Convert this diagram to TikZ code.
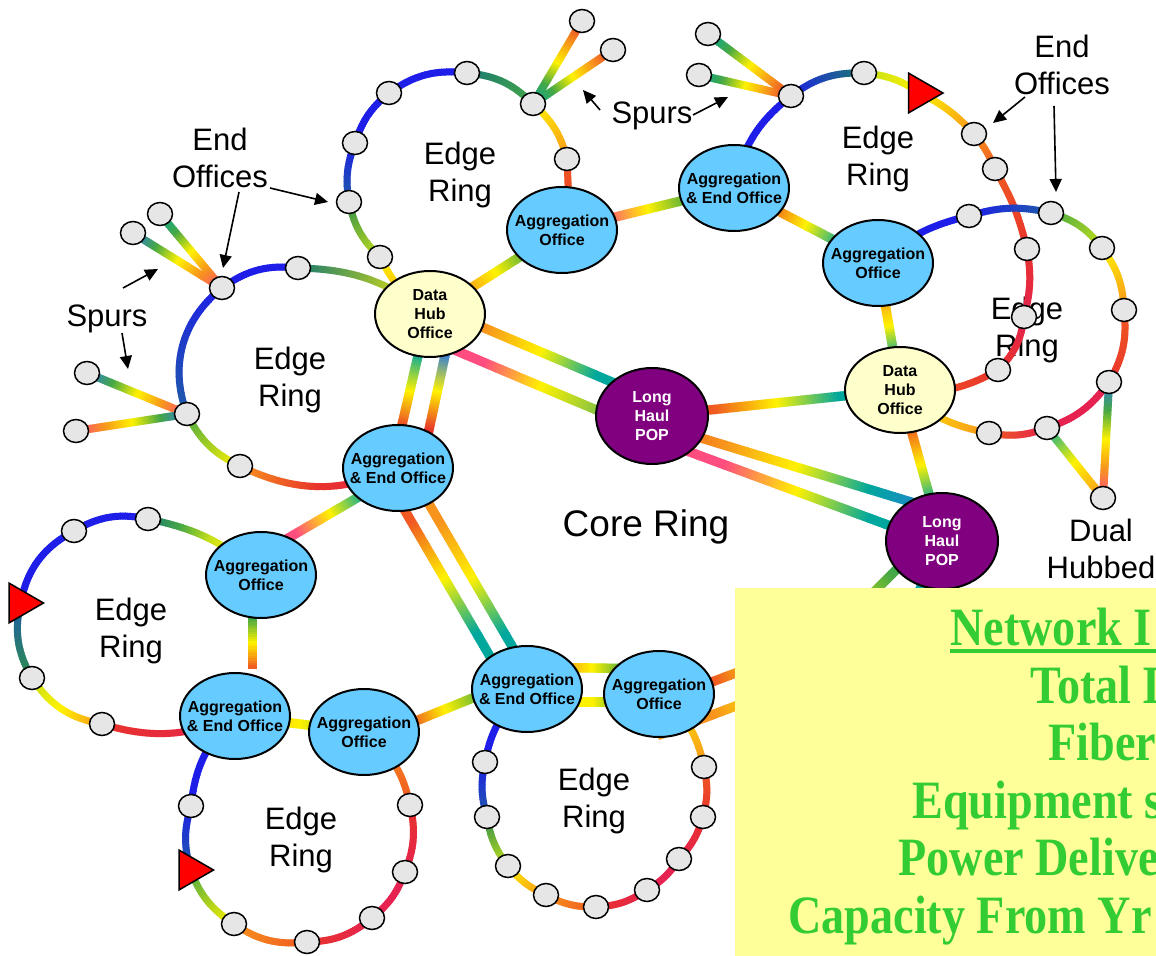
\documentclass[tikz,border=0pt]{standalone}
\usepackage{fontspec}
\setmainfont{Liberation Sans}
\newfontfamily\notefont[FakeStretch=0.855]{Liberation Serif}
\usetikzlibrary{shapes.geometric,arrows.meta,decorations.markings,calc}

\pgfdeclarelayer{paper}
\pgfdeclarelayer{fibre}
\pgfsetlayers{paper,fibre,main}

% office and note colours
\definecolor{aggblue}{HTML}{66CCFF}
\definecolor{hubyellow}{HTML}{FFFFCC}
\definecolor{popviolet}{HTML}{800080}
\definecolor{nodegray}{HTML}{E6E6E6}
\definecolor{notepaper}{HTML}{FFFF99}
\definecolor{notegreen}{HTML}{33CC33}
% fibre spectrum
\definecolor{cRed}{HTML}{E8342C}
\definecolor{cCrim}{HTML}{E52250}
\definecolor{cPink}{HTML}{FF4D80}
\definecolor{cOrng}{HTML}{F7941D}
\definecolor{cOrRed}{HTML}{F05A22}
\definecolor{cYel}{HTML}{FFF200}
\definecolor{cYG}{HTML}{C4DF1B}
\definecolor{cGrnL}{HTML}{8CC63F}
\definecolor{cGrn}{HTML}{45A845}
\definecolor{cGrnD}{HTML}{2E8E4E}
\definecolor{cTeal}{HTML}{00A79D}
\definecolor{cTealD}{HTML}{1A7A72}
\definecolor{cBlue}{HTML}{1E1EE8}
\definecolor{cBlueT}{HTML}{1F5CA8}
\definecolor{cSky}{HTML}{2C7BE0}

% colour-graded fibre: short tiles laid along the path, tinted by position
\def\gw{1.75pt}
\newcommand\gfrac[1]{%
  \pgfmathsetmacro\gf{#1*max(0,min(1,\pgfkeysvalueof{/pgf/decoration/mark info/distance from start}/\pgfdecoratedpathlength))}%
  \pgfmathtruncatemacro\gk{min(\gf,#1-0.0001)}%
  \pgfmathsetmacro\gt{100*(\gf-\gk)}%
}
\newcommand\gtile{\fill[gc] (-0.8pt,-\gw) rectangle (0.8pt,\gw);}

\tikzset{
  g2/.style 2 args={postaction={decorate,decoration={markings,
      mark=between positions 0 and 1 step 1.2pt with {\gfrac{1}\colorlet{gc}{#2!\gt!#1}\gtile}}}},
  g3/.style n args={3}{postaction={decorate,decoration={markings,
      mark=between positions 0 and 1 step 1.2pt with {\gfrac{2}%
        \ifcase\gk\relax\colorlet{gc}{#2!\gt!#1}\or\colorlet{gc}{#3!\gt!#2}\fi\gtile}}}},
  g5/.style n args={5}{postaction={decorate,decoration={markings,
      mark=between positions 0 and 1 step 1.2pt with {\gfrac{4}%
        \ifcase\gk\relax\colorlet{gc}{#2!\gt!#1}\or\colorlet{gc}{#3!\gt!#2}\or
        \colorlet{gc}{#4!\gt!#3}\or\colorlet{gc}{#5!\gt!#4}\fi\gtile}}}},
  g1/.style={g2={#1}{#1}},
  trunk/.code={\def\gw{2.35pt}},
  spur/.code={\def\gw{2pt}},
  sn/.style={ellipse, draw, line width=0.75pt, fill=nodegray,
    minimum width=12.5pt, minimum height=11.5pt, inner sep=0pt},
  big/.style={ellipse, draw, line width=1pt, inner sep=0pt,
    minimum width=55pt, minimum height=43pt},
  nodetext/.style={font=\bfseries\fontsize{8pt}{9.4pt}\selectfont, align=center, inner sep=0pt},
  agg/.style={big, fill=aggblue, label={[nodetext]center:#1}},
  hub/.style={big, fill=hubyellow, label={[nodetext]center:Data\\Hub\\Office}},
  pop/.style={big, fill=popviolet, minimum width=56pt, minimum height=48pt,
    label={[nodetext, text=white]center:Long\\Haul\\POP}},
  tri/.style={regular polygon, regular polygon sides=3, shape border rotate=-90,
    draw, line width=0.75pt, fill=red, minimum size=23pt, inner sep=0pt},
  lbl/.style={font=\fontsize{15.5pt}{18.5pt}\selectfont, align=center, inner sep=0pt},
  arr/.style={-{Triangle[length=6.5pt,width=6pt]}, line width=0.8pt},
  note/.style={font=\notefont\bfseries\fontsize{27pt}{27pt}\selectfont,
    text=notegreen, inner sep=0pt, anchor=base west},
}

\begin{document}
\begin{tikzpicture}[x=0.5pt,y=0.5pt]
\useasboundingbox (0,0) rectangle (1156,-956);
\begin{pgfonlayer}{paper}
  \fill[white] (0,0) rectangle (1156,-956);
\end{pgfonlayer}
\clip (0,0) rectangle (1156,-956);

% ---------- offices ----------
\node[agg={Aggregation\\Office}] (AO1) at (562,-230) {};
\node[agg={Aggregation\\\& End Office}] (AEO1) at (734,-188) {};
\node[agg={Aggregation\\Office}] (AO2) at (878,-263) {};
\node[hub] (DH2) at (900,-390) {};
\node[hub] (DH1) at (430,-314) {};
\node[agg={Aggregation\\\& End Office}] (AEO2) at (398,-468) {};
\node[pop] (LH1) at (652,-416) {};
\node[pop] (LH2) at (942,-541) {};
\node[agg={Aggregation\\Office}] (AO3) at (261,-575) {};
\node[agg={Aggregation\\\& End Office}] (AEO3) at (235,-716) {};
\node[agg={Aggregation\\Office}] (AO4) at (364,-732) {};
\node[agg={Aggregation\\\& End Office}] (AEO4) at (527,-689) {};
\node[agg={Aggregation\\Office}] (AO5) at (659,-694) {};

% ---------- end offices on the edge rings ----------
% ring A (top centre)
\node[sn] (A1) at (567,-159) {};
\node[sn] (A2) at (533,-104) {};
\node[sn] (A3) at (467,-73) {};
\node[sn] (A4) at (389,-93) {};
\node[sn] (A5) at (355,-143) {};
\node[sn] (A6) at (349,-202) {};
\node[sn] (A7) at (380,-257) {};
\node[sn] (SA1) at (582,-21) {};
\node[sn] (SA2) at (613,-50) {};
% ring B (top right)
\node[sn] (B1) at (791,-96) {};
\node[sn] (B2) at (864,-73) {};
\node[tri] (T1) at (920,-93) {};
\node[sn] (B3) at (974,-134) {};
\node[sn] (B4) at (995,-169) {};
\node[sn] (B5) at (1027,-249) {};
\node[sn] (B6) at (1024,-317) {};
\node[sn] (B7) at (998,-370) {};
\node[sn] (SB1) at (708,-34) {};
\node[sn] (SB2) at (699,-75) {};
% ring C (right, dual hubbed)
\node[sn] (C1) at (969,-216) {};
\node[sn] (C2) at (1051,-213) {};
\node[sn] (C3) at (1102,-248) {};
\node[sn] (C4) at (1124,-310) {};
\node[sn] (C5) at (1109,-382) {};
\node[sn] (C6) at (1047,-428) {};
\node[sn] (C7) at (989,-433) {};
\node[sn] (CD) at (1103,-498) {};
% ring D (left)
\node[sn] (D1) at (222,-288) {};
\node[sn] (D2) at (298,-268) {};
\node[sn] (D3) at (187,-414) {};
\node[sn] (D4) at (240,-466) {};
\node[sn] (SD1) at (133,-233) {};
\node[sn] (SD2) at (160,-214) {};
\node[sn] (SD3) at (87,-373) {};
\node[sn] (SD4) at (76,-431) {};
% ring E (left middle)
\node[sn] (E1) at (148,-519) {};
\node[sn] (E2) at (74,-531) {};
\node[tri] (T2) at (20.5,-603) {};
\node[sn] (E3) at (32,-678) {};
\node[sn] (E4) at (102,-724) {};
% ring F (bottom left)
\node[sn] (F1) at (191,-806) {};
\node[tri] (T3) at (190.5,-870) {};
\node[sn] (F2) at (234,-924) {};
\node[sn] (F3) at (307,-942) {};
\node[sn] (F4) at (372,-918) {};
\node[sn] (F5) at (405,-872) {};
\node[sn] (F6) at (410,-805) {};
% ring G (bottom centre)
\node[sn] (G1) at (485,-762) {};
\node[sn] (G2) at (487,-817) {};
\node[sn] (G3) at (508,-866) {};
\node[sn] (G4) at (546,-895) {};
\node[sn] (G5) at (596,-907) {};
\node[sn] (G6) at (647,-890) {};
\node[sn] (G7) at (679,-859) {};
\node[sn] (G8) at (703,-817) {};
\node[sn] (G9) at (704,-767) {};

% loose ends that run under the note
\coordinate (gapEnd) at (252.5,-668);
\coordinate (toBoxA) at (770,-660);
\coordinate (toBoxB) at (770,-693);
\coordinate (toBoxC) at (840,-626);
\coordinate (toBoxD) at (915,-600);

% ---------- fibre ----------
\begin{pgfonlayer}{fibre}
\node[lbl] (edgeC) at (1027,-330) {Edge\\Ring};
% ring A
\path[g2={cRed}{cOrRed}] ([xshift=4pt]AO1.center) -- (A1.center);
\path[g2={cOrng}{cYel}] (A1.center) to[bend right=17] (A2.center);
\path[g2={cGrn}{cTealD}] (A2.center) to[bend right=20] (A3.center);
\path[g1=cBlue] (A3.center) to[bend right=21] (A4.center);
\path[g1=cBlue] (A4.center) to[bend right=16] (A5.center);
\path[g2={cBlue}{cBlueT}] (A5.center) to[bend right=15] (A6.center);
\path[g2={cGrnD}{cYG}] (A6.center) to[bend right=17] (A7.center);
\path[g2={cYel}{cOrng}] (A7.center) to[bend right=15] (DH1.center);
\path[spur,g5={cTeal}{cGrn}{cYel}{cOrng}{cRed}] (A2.center) -- (SA1.center);
\path[spur,g5={cTeal}{cGrn}{cYel}{cOrng}{cRed}] (A2.center) -- (SA2.center);
% ring B
\path[g1=cBlue] (AEO1.center) to[bend left=20] (B1.center);
\path[g2={cBlue}{cTealD}] (B1.center) to[bend left=19] (B2.center);
\path[g2={cYG}{cYel}] (B2.center) to[bend left=14] (T1.center);
\path[g2={cYel}{cOrng}] (T1.center) to[bend left=10] (B3.center);
\path[g2={cOrng}{cOrRed}] (B3.center) to[bend left=8] (B4.center);
\path[g2={cOrRed}{cRed}] (B4.center) to[bend left=8] (B5.center);
\path[g2={cRed}{cCrim}] (B5.center) to[bend left=12] (B6.center);
\path[g2={cCrim}{cRed}] (B6.center) to[bend left=19] (B7.center);
\path[g2={cRed}{cOrRed}] (B7.center) to[bend left=18] (DH2.center);
\path[spur,g5={cRed}{cOrng}{cYel}{cGrn}{cTeal}] (B1.center) -- (SB1.center);
\path[spur,g5={cRed}{cOrng}{cYel}{cGrn}{cTeal}] (B1.center) -- (SB2.center);
% ring C
\path[g1=cBlue] (AO2.center) to[bend left=14] (C1.center);
\path[g2={cBlue}{cBlueT}] (C1.center) to[bend left=15] (C2.center);
\path[g2={cGrn}{cYG}] (C2.center) to[bend left=18] (C3.center);
\path[g2={cYel}{cOrng}] (C3.center) to[bend left=17] (C4.center);
\path[g2={cOrRed}{cRed}] (C4.center) to[bend left=18] (C5.center);
\path[g1=cCrim] (C5.center) to[bend left=18] (C6.center);
\path[g2={cCrim}{cOrRed}] (C6.center) to[bend left=15] (C7.center);
\path[g2={cOrng}{cYel}] (C7.center) to[bend left=15] (DH2.center);
\path[spur,g3={cTeal}{cYel}{cOrng}] (C6.center) -- (CD.center);
\path[spur,g5={cSky}{cGrn}{cYel}{cOrng}{cPink}] (C5.center) -- (CD.center);
% ring D
\path[g1=cBlue] (D2.center) to[bend right=21] (D1.center);
\path[g2={cBlue}{cBlueT}] (D1.center) to[bend right=36] (D3.center);
\path[g2={cGrn}{cYel}] (D3.center) to[bend right=19] (D4.center);
\path[g3={cOrng}{cRed}{cCrim}] (D4.center) to[bend right=25] (AEO2.center);
\path[g2={cTealD}{cYel}] (D2.center) to[bend left=18] (DH1.center);
\path[spur,g5={cPink}{cOrng}{cYel}{cGrn}{cSky}] (D1.center) -- (SD1.center);
\path[spur,g5={cPink}{cOrng}{cYel}{cGrn}{cTeal}] (D1.center) -- (SD2.center);
\path[spur,g5={cPink}{cOrng}{cYel}{cGrn}{cSky}] (D3.center) -- (SD3.center);
\path[spur,g5={cSky}{cGrn}{cYel}{cOrng}{cPink}] (D3.center) -- (SD4.center);
% ring E
\path[g5={cYel}{cYel}{cYG}{cGrn}{cTealD}] (AO3.center) to[bend right=15] (E1.center);
\path[g1=cBlue] (E1.center) to[bend right=21] (E2.center);
\path[g1=cBlue] (E2.center) to[bend right=25] (T2.center);
\path[g2={cBlueT}{cGrnD}] (T2.center) to[bend right=21] (E3.center);
\path[g3={cYG}{cYel}{cOrng}] (E3.center) to[bend right=23] (E4.center);
\path[g2={cRed}{cCrim}] (E4.center) to[bend right=20] (AEO3.center);
\path[trunk,g3={cGrn}{cYel}{cOrRed}] ([xshift=-4.25pt]AO3.south) -- (gapEnd);
% ring F
\path[g1=cBlue] (AEO3.center) to[bend right=20] (F1.center);
\path[g2={cBlue}{cBlueT}] (F1.center) to[bend right=16] (T3.center);
\path[g2={cGrn}{cYel}] (T3.center) to[bend right=18] (F2.center);
\path[g2={cOrng}{cOrRed}] (F2.center) to[bend right=20] (F3.center);
\path[g2={cRed}{cCrim}] (F3.center) to[bend right=19] (F4.center);
\path[g1=cCrim] (F4.center) to[bend right=15] (F5.center);
\path[g2={cCrim}{cRed}] (F5.center) to[bend right=17] (F6.center);
\path[g2={cOrRed}{cOrng}] (F6.center) to[bend right=20] (AO4.center);
% ring G
\path[g1=cBlue] (AEO4.center) to[bend right=19] (G1.center);
\path[g2={cBlue}{cBlueT}] (G1.center) to[bend right=14] (G2.center);
\path[g2={cGrnD}{cYG}] (G2.center) to[bend right=14] (G3.center);
\path[g2={cYel}{cOrng}] (G3.center) to[bend right=13] (G4.center);
\path[g2={cOrng}{cOrRed}] (G4.center) to[bend right=14] (G5.center);
\path[g2={cRed}{cCrim}] (G5.center) to[bend right=15] (G6.center);
\path[g1=cCrim] (G6.center) to[bend right=13] (G7.center);
\path[g2={cCrim}{cRed}] (G7.center) to[bend right=13] (G8.center);
\path[g2={cRed}{cOrRed}] (G8.center) to[bend right=13] (G9.center);
\path[g2={cOrng}{cYel}] (G9.center) to[bend right=20] (AO5.center);
% core ring and office links
\path[trunk,g5={cOrRed}{cOrng}{cYel}{cGrn}{cTeal}] (DH1.center) -- (AO1.center);
\path[trunk,g5={cPink}{cPink}{cYel}{cGrn}{cGrn}] (AO1.center) -- (AEO1.center);
\path[trunk,g5={cOrRed}{cOrRed}{cYel}{cTeal}{cTeal}] (AEO1.center) -- (AO2.center);
\path[trunk,g5={cOrng}{cOrng}{cYel}{cTeal}{cTeal}] (AO2.center) -- (DH2.center);
\path[trunk,g5={cTeal}{cTeal}{cYel}{cOrRed}{cOrRed}] (DH2.center) -- (LH1.center);
\path[trunk,g5={cOrRed}{cOrRed}{cYel}{cTeal}{cTeal}] (DH2.center) -- (LH2.center);
\path[trunk,g5={cOrng}{cOrng}{cYel}{cTeal}{cTeal}] ([yshift=4.5pt]DH1.center) -- ([yshift=8.5pt]LH1.center);
\path[trunk,g5={cPink}{cPink}{cYel}{cGrnL}{cGrnL}] ([yshift=-12.8pt]DH1.center) -- ([yshift=-8.75pt]LH1.center);
\path[trunk,g5={cOrRed}{cOrng}{cYel}{cTeal}{cSky}] ([yshift=-3.5pt]LH1.center) -- ([yshift=14.75pt]LH2.center);
\path[trunk,g5={cPink}{cPink}{cYel}{cTeal}{cTeal}] ([yshift=-11pt]LH1.center) -- ([yshift=-2pt]LH2.center);
\path[trunk,g5={cRed}{cRed}{cYel}{cTeal}{cTeal}] ([xshift=-3pt]AEO2.center) -- ([xshift=-1.15pt]DH1.center);
\path[trunk,g5={cRed}{cRed}{cYel}{cSky}{cSky}] ([xshift=11.35pt]AEO2.center) -- ([xshift=12pt]DH1.center);
\path[trunk,g5={cTeal}{cTeal}{cYel}{cPink}{cPink}] ([yshift=-3pt]AEO2.center) -- ([yshift=10.5pt]AO3.center);
\path[trunk,g5={cOrRed}{cOrRed}{cYel}{cTeal}{cTeal}] ([xshift=-9pt]AEO2.center) -- ([xshift=-9pt]AEO4.center);
\path[trunk,g5={cOrng}{cOrng}{cYel}{cTeal}{cTeal}] ([xshift=5pt]AEO2.center) -- ([xshift=5pt]AEO4.center);
\path[trunk,g3={cOrng}{cYel}{cGrn}] (AEO3.center) -- (AO4.center);
\path[trunk,g5={cRed}{cRed}{cYel}{cGrn}{cGrn}] ([yshift=-5pt]AO4.center) -- ([yshift=6.5pt]AEO4.center);
\path[trunk,g5={cRed}{cOrng}{cYel}{cGrn}{cTeal}] ([yshift=11pt]AEO4.center) -- ([yshift=12.5pt]AO5.center);
\path[trunk,g5={cYel}{cYel}{cYel}{cGrn}{cGrn}] ([yshift=-6.5pt]AEO4.center) -- ([yshift=-4pt]AO5.center);
\path[trunk,g3={cPink}{cOrRed}{cYel}] ([yshift=-4pt]AO5.center) -- (toBoxA);
\path[trunk,g3={cOrng}{cOrng}{cYel}] ([yshift=-20.5pt]AO5.center) -- (toBoxB);
\path[trunk,g3={cTeal}{cGrn}{cYel}] ([yshift=8.5pt]LH2.center) -- (toBoxC);
\path[trunk,g2={cSky}{cTeal}] (LH2.center) -- (toBoxD);
\end{pgfonlayer}

% ---------- captions ----------
\node[lbl] (edgeA) at (460,-175) {Edge\\Ring};
\node[lbl] (edgeB) at (878,-159) {Edge\\Ring};
\node[lbl] (edgeD) at (290,-380) {Edge\\Ring};
\node[lbl] (edgeE) at (131,-631) {Edge\\Ring};
\node[lbl] (edgeF) at (301,-840) {Edge\\Ring};
\node[lbl] (edgeG) at (594,-801) {Edge\\Ring};
\node[lbl, font=\fontsize{18.5pt}{22pt}\selectfont] (core) at (646,-527) {Core Ring};
\node[lbl] (dual) at (1101,-549) {Dual\\Hubbed};
\node[lbl] (eoLeft) at (220,-158) {End\\Offices};
\node[lbl] (eoRight) at (1062,-65) {End\\Offices};
\node[lbl] (spLeft) at (107,-319) {Spurs};
\node[lbl] (spTop) at (652,-116) {Spurs};

% ---------- pointers ----------
\coordinate (p1s) at (239,-192);  \coordinate (p1e) at (223,-268);
\coordinate (p2s) at (270,-188);  \coordinate (p2e) at (328,-202);
\coordinate (p3s) at (123,-288);  \coordinate (p3e) at (158,-269);
\coordinate (p4s) at (122,-333);  \coordinate (p4e) at (128,-369);
\coordinate (p5s) at (600,-110);  \coordinate (p5e) at (583,-90);
\coordinate (p6s) at (693,-115);  \coordinate (p6e) at (728,-97);
\coordinate (p7s) at (1025,-97);  \coordinate (p7e) at (993,-123);
\coordinate (p8s) at (1054,-106); \coordinate (p8e) at (1056,-192);
\foreach \k in {1,...,8} {\draw[arr] (p\k s) -- (p\k e);}

% ---------- note ----------
\fill[notepaper] (735,-588) rectangle (1160,-960);
\node[note] (n1) at (950,-645) {Network I};
\draw[notegreen, line width=1.6pt] ([yshift=-3pt]n1.base west) -- ++(220,0);
\node[note] (n2) at (1030,-703) {Total I};
\node[note] (n3) at (1048,-760) {Fiber};
\node[note] (n4) at (912,-818) {Equipment s};
\node[note] (n5) at (898,-875) {Power Delive};
\node[note] (n6) at (788,-933) {Capacity From Yr};
\end{tikzpicture}
\end{document}
